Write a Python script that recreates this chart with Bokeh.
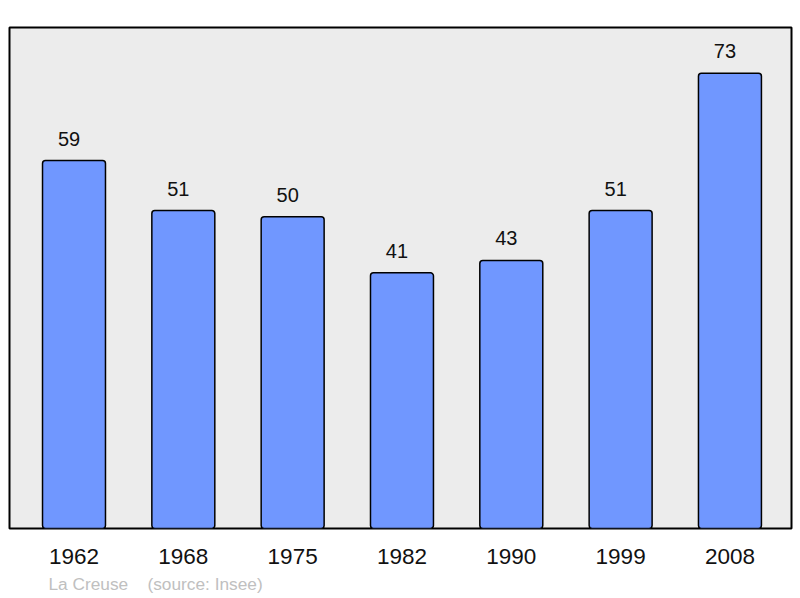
from bokeh.plotting import figure
from bokeh.models import Range1d, FixedTicker, Title, ColumnDataSource
from bokeh.core.properties import value
from bokeh.embed import file_html
from bokeh.resources import INLINE

years = ["1962", "1968", "1975", "1982", "1990", "1999", "2008"]
population = [59, 51, 50, 41, 43, 51, 73]
source_note = "La Creuse\u00a0\u00a0\u00a0\u00a0(source: Insee)"

FONT = "Liberation Sans"
idx = list(range(len(years)))
src = ColumnDataSource(dict(x=idx, top=population, label=[str(v) for v in population]))

p = figure(width=800, height=598, output_backend="svg", toolbar_location=None,
           x_range=Range1d(-0.59, 6.563), y_range=Range1d(0, 80.35),
           min_border_left=9, min_border_right=9, min_border_top=27, min_border_bottom=70)
p.background_fill_color = "#ececec"
p.border_fill_color = "white"
p.outline_line_color = "black"
p.outline_line_width = 2
p.xgrid.visible = False
p.ygrid.visible = False
p.yaxis.visible = False

p.vbar(x="x", top="top", bottom=0, width=0.576, source=src,
       fill_color="#7097ff", line_color="black", line_width=1.5, border_radius=3)
p.text(x="x", y="top", text="label", source=src, x_offset=-5, y_offset=-22,
       text_align="center", text_baseline="alphabetic",
       text_font=value(FONT), text_font_size="20px", text_color="#111111")

ax = p.xaxis[0]
ax.ticker = FixedTicker(ticks=idx)
ax.major_label_overrides = {i: y for i, y in zip(idx, years)}
ax.axis_line_color = None
ax.major_tick_line_color = None
ax.minor_tick_line_color = None
ax.major_label_standoff = 14
ax.major_label_text_font = FONT
ax.major_label_text_font_size = "22.5px"
ax.major_label_text_color = "#111111"

p.add_layout(Title(text=source_note, align="left", offset=39, standoff=10,
                   text_font=FONT, text_font_size="17.3px", text_font_style="normal",
                   text_color="#c0c0c0"), "below")

open("out.html", "w").write(file_html(p, INLINE))
